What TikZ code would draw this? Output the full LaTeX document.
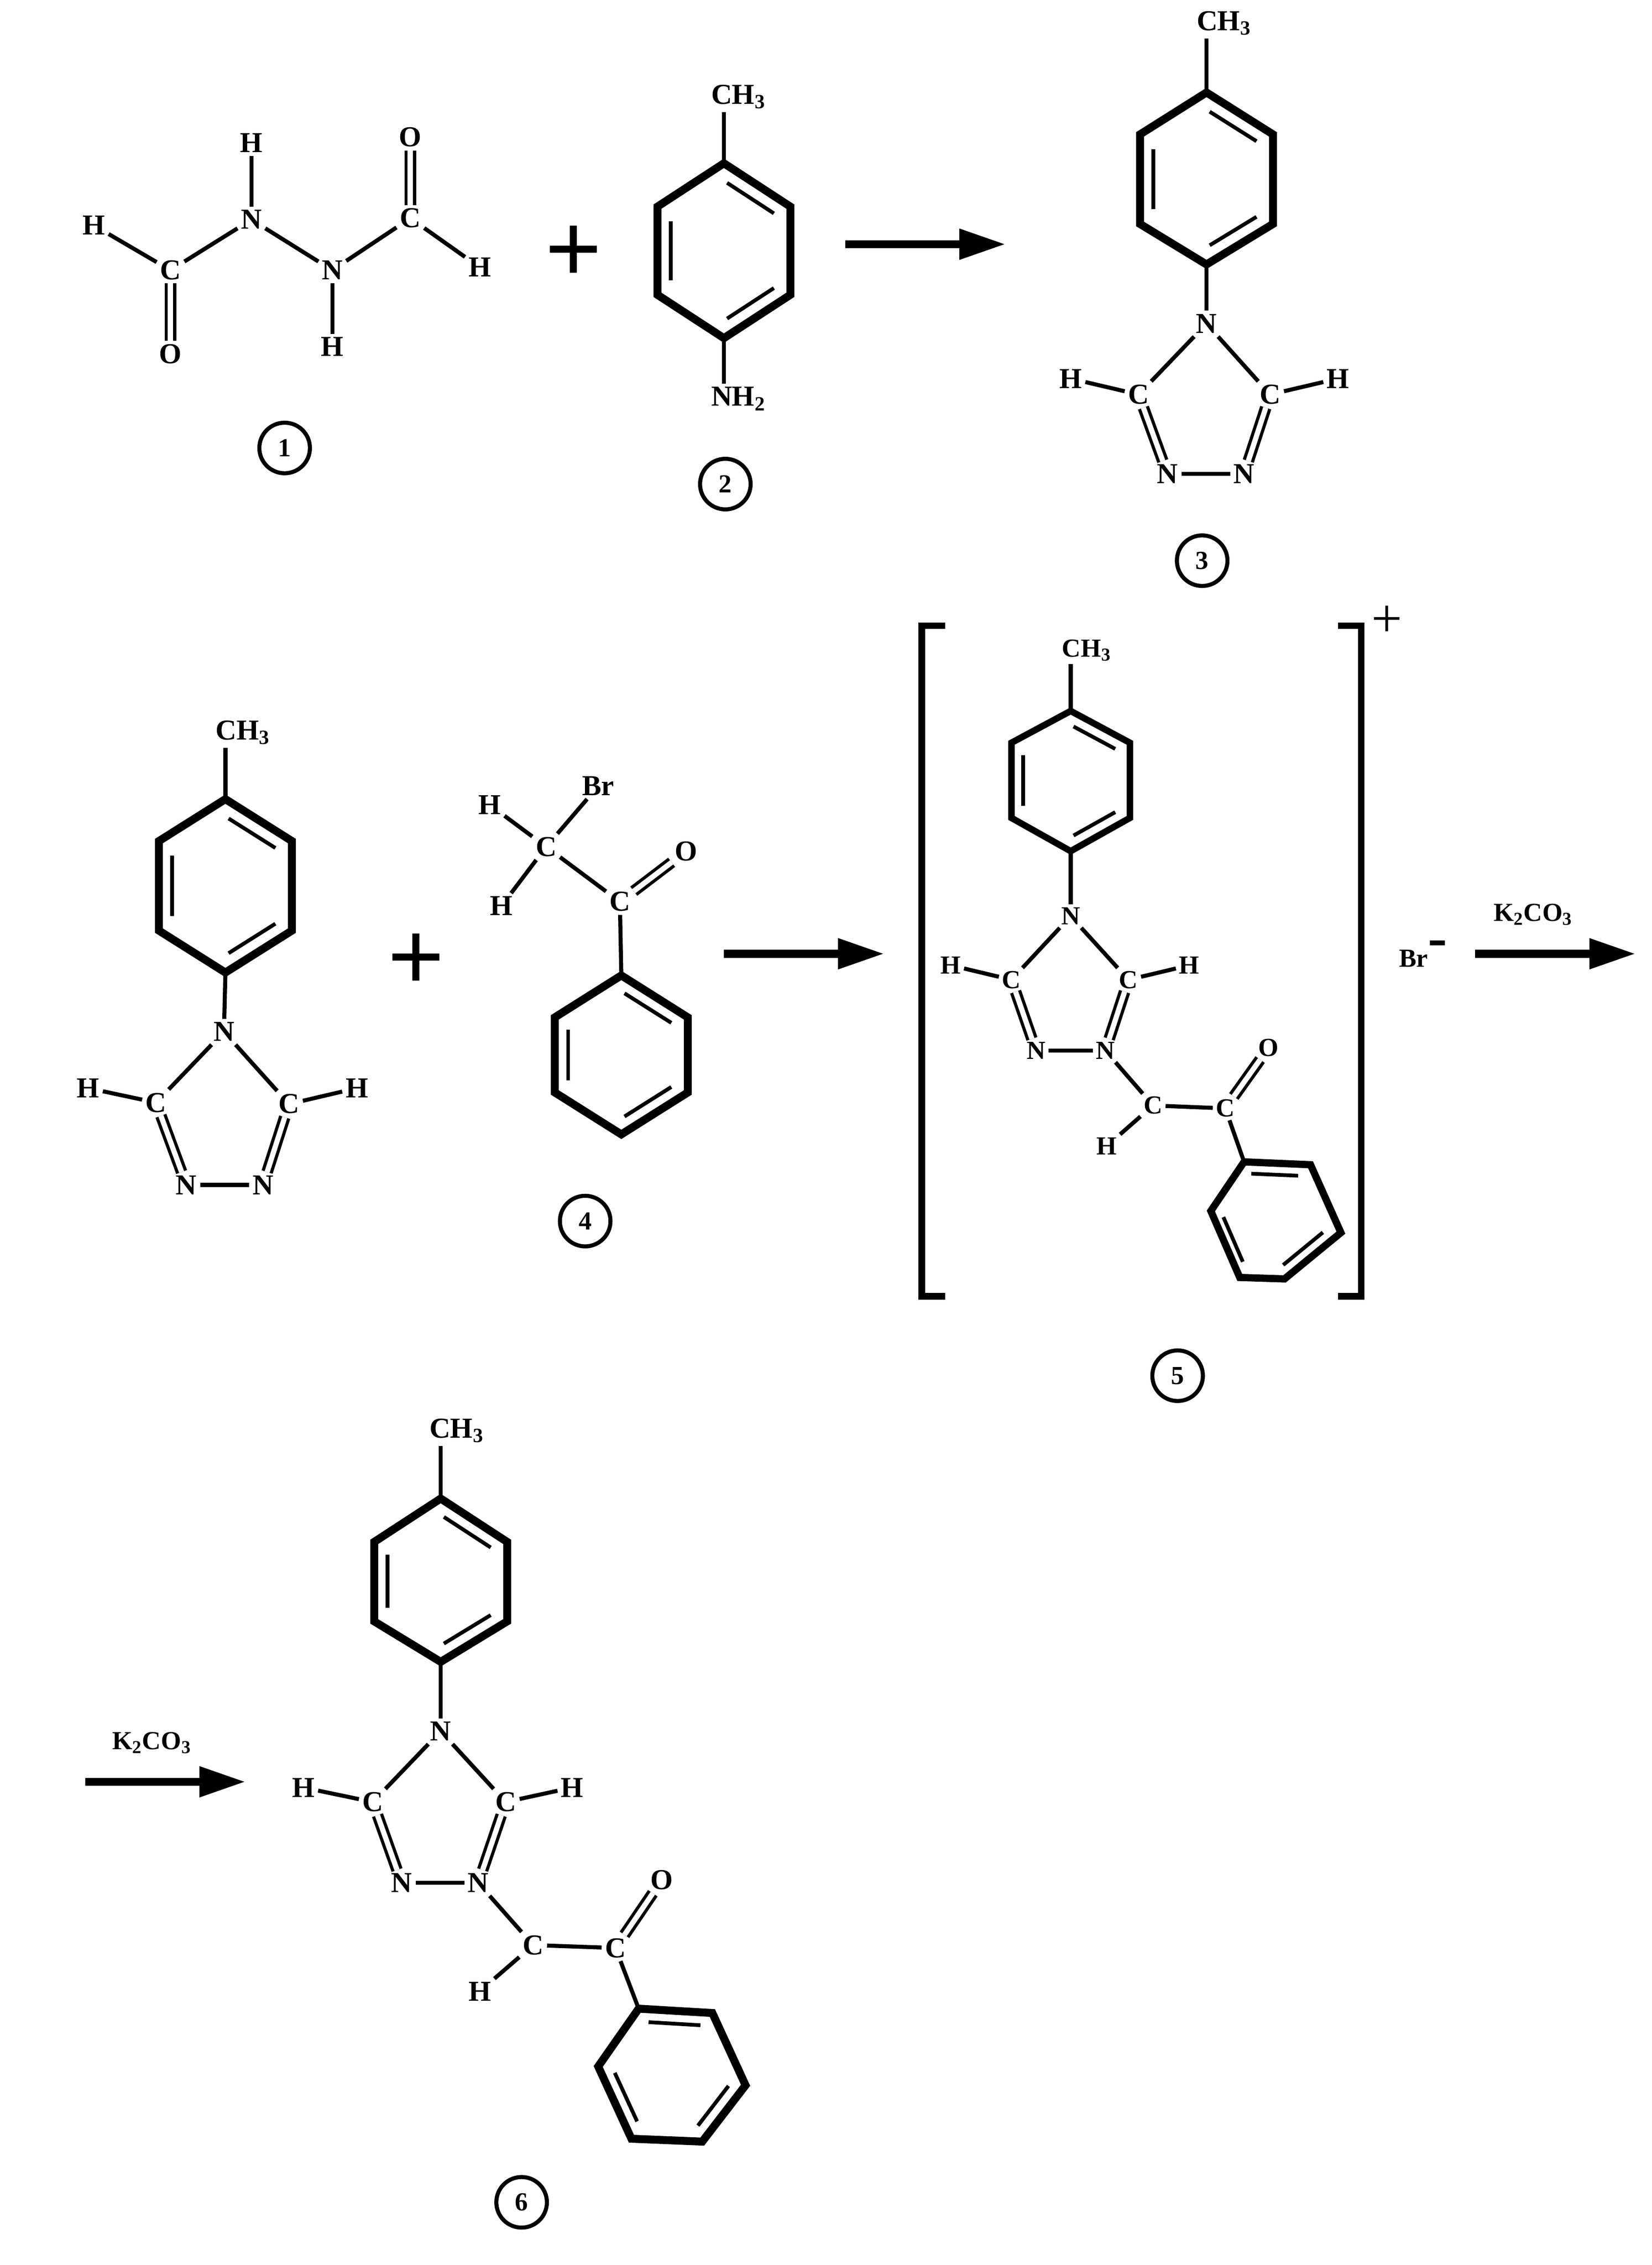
\documentclass[tikz,border=0pt]{standalone}
\usepackage{fontspec}
\setmainfont{Liberation Serif}
\usetikzlibrary{calc,arrows.meta}
\newcommand\atomfont{\fontsize{20}{22}\selectfont\bfseries}
\newcommand\atomsmall{\fontsize{18}{20}\selectfont\bfseries}
\tikzset{
 atom/.style={font=\atomfont,inner sep=2.2pt},
 atoms/.style={font=\atomsmall,inner sep=2pt},
 bond/.style={line width=2.8pt},
 dbond/.style={double,double distance=3.6pt,line width=2.2pt},
 inner/.style={line width=2.6pt},
 tag/.style={draw,circle,line width=2.8pt,minimum size=35pt,inner sep=0pt,font=\fontsize{18}{20}\selectfont\bfseries},
 bigplus/.style={font=\fontsize{70}{72}\selectfont\bfseries,inner sep=0pt},
 rxn/.style={line width=5.5pt,-{Triangle[length=32pt,width=20pt]}},
 brk/.style={line width=4.5pt},
}
\newcommand\hexring[8]{%
 \coordinate (#1a) at (#3); \coordinate (#1b) at (#4); \coordinate (#1c) at (#5);
 \coordinate (#1d) at (#6); \coordinate (#1e) at (#7); \coordinate (#1f) at (#8);
 \coordinate (#1o) at ($(#1a)!.5!(#1d)$);
 \draw[line width=#2,line join=miter] (#1a)--(#1b)--(#1c)--(#1d)--(#1e)--(#1f)--cycle;
 \draw[inner] ($(#1a)!.06!(#1b)!.2!(#1o)$)--($(#1a)!.94!(#1b)!.2!(#1o)$);
 \draw[inner] ($(#1c)!.06!(#1d)!.2!(#1o)$)--($(#1c)!.94!(#1d)!.2!(#1o)$);
 \draw[inner] ($(#1e)!.08!(#1f)!.2!(#1o)$)--($(#1e)!.92!(#1f)!.2!(#1o)$);
}
\begin{document}
\begin{tikzpicture}[x=1pt,y=-1pt]
\useasboundingbox (0,0) rectangle (1143,1567.4);
% molecule 1
\node[atom] (m1h1) at (65,156) {H};
\node[atom] (m1c1) at (118,187) {C};
\node[atom] (m1o1) at (118,245) {O};
\node[atom] (m1n1) at (174,152) {N};
\node[atom] (m1h2) at (174,99) {H};
\node[atom] (m1n2) at (230,187) {N};
\node[atom] (m1h3) at (230,240) {H};
\node[atom] (m1c2) at (284,151) {C};
\node[atom] (m1o2) at (284,95) {O};
\node[atom] (m1h4) at (332,185) {H};
\draw[bond] (m1h1)--(m1c1);
\draw[bond] (m1c1)--(m1n1);
\draw[bond] (m1n1)--(m1h2);
\draw[bond] (m1n1)--(m1n2);
\draw[bond] (m1n2)--(m1h3);
\draw[bond] (m1n2)--(m1c2);
\draw[bond] (m1c2)--(m1h4);
\draw[dbond] (m1c1)--(m1o1);
\draw[dbond] (m1c2)--(m1o2);
\node[tag] (t1) at (197,310) {1};
\node[bigplus] (p1) at (397,176) {+};
% molecule 2
\hexring{r2}{5.5pt}{501,113}{547,143}{547,204}{501,234}{455,204}{455,143}
\node[atom] (m2me) at (511,67) {CH\textsubscript{3}};
\node[atom] (m2nh) at (511,276) {NH\textsubscript{2}};
\draw[bond] (r2a)--(r2a |- m2me.south);
\draw[bond] (r2d)--(r2d |- m2nh.north);
\node[tag] (t2) at (502,335) {2};
\coordinate (a1s) at (585,169); \coordinate (a1e) at (696,169);
\draw[rxn] (a1s)--(a1e);
% molecule 3
\hexring{r3}{5.5pt}{835,64}{881,93}{881,155}{835,183}{789,155}{789,93}
\node[atom] (m3me) at (847,16) {CH\textsubscript{3}};
\node[atom] (m3n1) at (835,224) {N};
\node[atom] (m3c1) at (788,273) {C};
\node[atom] (m3h1) at (741,262) {H};
\node[atom] (m3c2) at (879,273) {C};
\node[atom] (m3h2) at (926,262) {H};
\node[atom] (m3n2) at (808,328) {N};
\node[atom] (m3n3) at (861,328) {N};
\draw[bond] (r3a)--(r3a |- m3me.south);
\draw[bond] (r3d)--(m3n1);
\draw[bond] (m3n1)--(m3c1);
\draw[bond] (m3n1)--(m3c2);
\draw[bond] (m3c1)--(m3h1);
\draw[bond] (m3c2)--(m3h2);
\draw[bond] (m3n2)--(m3n3);
\draw[dbond] (m3c1)--(m3n2);
\draw[dbond] (m3c2)--(m3n3);
\node[tag] (t3) at (832,388) {3};
% molecule 3 repeated
\hexring{r4}{5.5pt}{156,553}{202,582}{202,644}{156,673}{110,644}{110,582}
\node[atom] (m4me) at (168,507) {CH\textsubscript{3}};
\node[atom] (m4n1) at (155,714) {N};
\node[atom] (m4c1) at (108,763) {C};
\node[atom] (m4h1) at (61,753) {H};
\node[atom] (m4c2) at (200,764) {C};
\node[atom] (m4h2) at (247,753) {H};
\node[atom] (m4n2) at (129,820) {N};
\node[atom] (m4n3) at (182,820) {N};
\draw[bond] (r4a)--(r4a |- m4me.south);
\draw[bond] (r4d)--(m4n1);
\draw[bond] (m4n1)--(m4c1);
\draw[bond] (m4n1)--(m4c2);
\draw[bond] (m4c1)--(m4h1);
\draw[bond] (m4c2)--(m4h2);
\draw[bond] (m4n2)--(m4n3);
\draw[dbond] (m4c1)--(m4n2);
\draw[dbond] (m4c2)--(m4n3);
\node[bigplus] (p2) at (288,666) {+};
% molecule 4
\hexring{r5}{5.5pt}{430,675}{476,704}{476,756}{430,785}{384,756}{384,704}
\node[atom] (b1h1) at (339,557) {H};
\node[atom] (b1br) at (414,544) {Br};
\node[atom] (b1c1) at (378,586) {C};
\node[atom] (b1h2) at (347,627) {H};
\node[atom] (b1c2) at (429,624) {C};
\node[atom] (b1o) at (475,589) {O};
\draw[bond] (b1h1)--(b1c1);
\draw[bond] (b1br)--(b1c1);
\draw[bond] (b1h2)--(b1c1);
\draw[bond] (b1c1)--(b1c2);
\draw[dbond] (b1c2)--(b1o);
\draw[bond] (b1c2)--(r5a);
\node[tag] (t4) at (405,845) {4};
\coordinate (a2s) at (501,660); \coordinate (a2e) at (612,660);
\draw[rxn] (a2s)--(a2e);
% molecule 5
\coordinate (bl1) at (654,433); \coordinate (bl2) at (638,433); \coordinate (bl3) at (638,897); \coordinate (bl4) at (654,897);
\coordinate (br1) at (926,433); \coordinate (br2) at (942,433); \coordinate (br3) at (942,897); \coordinate (br4) at (926,897);
\draw[brk] (bl1)--(bl2)--(bl3)--(bl4);
\draw[brk] (br1)--(br2)--(br3)--(br4);
\node[font=\fontsize{38}{40}\selectfont,inner sep=0pt] (chg) at (960,430) {+};
\hexring{r6}{4.5pt}{741,492}{782,514}{782,566}{741,589}{700,566}{700,514}
\node[atoms] (m5me) at (752,450) {CH\textsubscript{3}};
\node[atoms] (m5n1) at (741,634) {N};
\node[atoms] (m5c1) at (700,678) {C};
\node[atoms] (m5h1) at (658,668) {H};
\node[atoms] (m5c2) at (781,678) {C};
\node[atoms] (m5h2) at (823,668) {H};
\node[atoms] (m5n2) at (717,727) {N};
\node[atoms] (m5n3) at (765,727) {N};
\node[atoms] (m5c3) at (798,765) {C};
\node[atoms] (m5c4) at (848,767) {C};
\node[atoms] (m5h3) at (766,793) {H};
\node[atoms] (m5o) at (878,725) {O};
\draw[bond] (r6a)--(r6a |- m5me.south);
\draw[bond] (r6d)--(m5n1);
\draw[bond] (m5n1)--(m5c1);
\draw[bond] (m5n1)--(m5c2);
\draw[bond] (m5c1)--(m5h1);
\draw[bond] (m5c2)--(m5h2);
\draw[bond] (m5n2)--(m5n3);
\draw[dbond] (m5c1)--(m5n2);
\draw[dbond] (m5c2)--(m5n3);
\draw[bond] (m5n3)--(m5c3);
\draw[bond] (m5c3)--(m5c4);
\draw[bond] (m5c3)--(m5h3);
\draw[dbond] (m5c4)--(m5o);
\hexring{r7}{5pt}{861,804}{907,806}{928,853}{889,885}{858,884}{838,838}
\draw[bond] (m5c4)--(r7a);
\node[atoms] (brm) at (985,660) {Br\raisebox{7pt}{\fontsize{40}{40}\selectfont -}};
\node[atoms] (k1) at (1061,633) {K\textsubscript{2}CO\textsubscript{3}};
\coordinate (a3s) at (1021,660); \coordinate (a3e) at (1132,660);
\draw[rxn] (a3s)--(a3e);
\node[tag] (t5) at (815,952) {5};
% molecule 6
\node[atoms] (k2) at (105,1206) {K\textsubscript{2}CO\textsubscript{3}};
\coordinate (a4s) at (59,1233); \coordinate (a4e) at (170,1233);
\draw[rxn] (a4s)--(a4e);
\hexring{r8}{5.5pt}{305,1037}{351,1067}{351,1122}{305,1150}{259,1122}{259,1067}
\node[atom] (m6me) at (316,990) {CH\textsubscript{3}};
\node[atom] (m6n1) at (305,1198) {N};
\node[atom] (m6c1) at (258,1247) {C};
\node[atom] (m6h1) at (210,1237) {H};
\node[atom] (m6c2) at (350,1247) {C};
\node[atom] (m6h2) at (396,1237) {H};
\node[atom] (m6n2) at (278,1303) {N};
\node[atom] (m6n3) at (331,1303) {N};
\node[atom] (m6c3) at (369,1346) {C};
\node[atom] (m6c4) at (426,1348) {C};
\node[atom] (m6h3) at (332,1378) {H};
\node[atom] (m6o) at (458,1301) {O};
\draw[bond] (r8a)--(r8a |- m6me.south);
\draw[bond] (r8d)--(m6n1);
\draw[bond] (m6n1)--(m6c1);
\draw[bond] (m6n1)--(m6c2);
\draw[bond] (m6c1)--(m6h1);
\draw[bond] (m6c2)--(m6h2);
\draw[bond] (m6n2)--(m6n3);
\draw[dbond] (m6c1)--(m6n2);
\draw[dbond] (m6c2)--(m6n3);
\draw[bond] (m6n3)--(m6c3);
\draw[bond] (m6c3)--(m6c4);
\draw[bond] (m6c3)--(m6h3);
\draw[dbond] (m6c4)--(m6o);
\hexring{r9}{5.5pt}{442,1390}{493,1393}{516,1443}{486,1482}{437,1480}{414,1430}
\draw[bond] (m6c4)--(r9a);
\node[tag] (t6) at (361,1524) {6};
\end{tikzpicture}
\end{document}
